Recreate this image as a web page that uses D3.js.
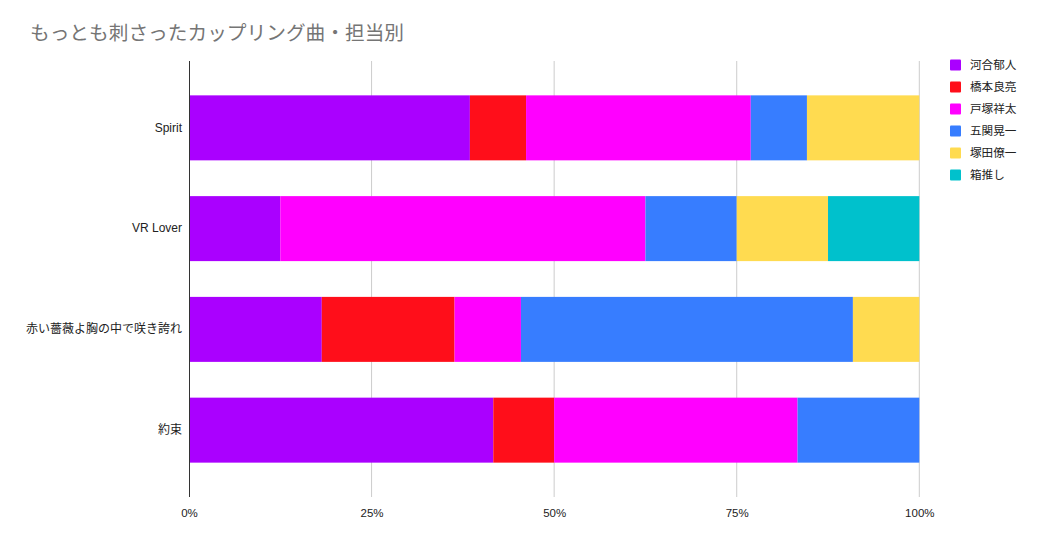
<!DOCTYPE html>
<html><head><meta charset="utf-8">
<script src="https://cdn.jsdelivr.net/npm/d3@7/dist/d3.min.js"></script>
<style>
body{margin:0;background:#fff;}
text{font-family:"Liberation Sans",Arial,"Noto Sans CJK JP",sans-serif;}
</style></head><body>
<svg id="c" width="1038" height="536"></svg>
<script>
const title = "もっとも刺さったカップリング曲・担当別";
const songs = ["Spirit","VR Lover","赤い薔薇よ胸の中で咲き誇れ","約束"];
const members = ["河合郁人","橋本良亮","戸塚祥太","五関晃一","塚田僚一","箱推し"];
const colors = ["#aa00ff","#ff0e1a","#ff00ff","#377dff","#ffdb50","#00c1cc"];
// votes per song, in members order
const vKawai   = [5,1,2,5];
const vHashi   = [1,0,2,1];
const vTotsuka = [4,4,1,4];
const vGoseki  = [1,1,5,2];
const vTsukada = [2,1,1,0];
const vHako    = [0,1,0,0];
const xTicks = [0,0.25,0.5,0.75,1];

const series = [vKawai,vHashi,vTotsuka,vGoseki,vTsukada,vHako];
const rows = songs.map((s,i)=>{
  const r={song:s}; let tot=0;
  members.forEach((m,j)=>{tot+=series[j][i];});
  members.forEach((m,j)=>{r[m]=series[j][i]/tot;});
  return r;
});
const stack = d3.stack().keys(members)(rows);

const svg = d3.select("#c");
const x = d3.scaleLinear().domain([0,1]).range([189,919.3]);
const y = d3.scaleBand().domain(songs).range([61,497]).paddingInner(0.355).paddingOuter(0.341);

svg.append("text").attr("x",30).attr("y",40).attr("fill","#757575")
  .style("font-size","19.7px").text(title);

// grid
svg.append("g").selectAll("line").data(xTicks.slice(1)).join("line")
  .attr("x1",d=>x(d)).attr("x2",d=>x(d)).attr("y1",61).attr("y2",497)
  .attr("stroke","#cccccc").attr("stroke-width",1);

// bars
svg.append("g").selectAll("g").data(stack).join("g")
  .attr("fill",(d,i)=>colors[i])
  .selectAll("rect").data(d=>d).join("rect")
  .attr("x",d=>x(d[0])).attr("width",d=>x(d[1])-x(d[0]))
  .attr("y",d=>y(d.data.song)).attr("height",y.bandwidth());

// x axis labels
const xa = svg.append("g").attr("transform","translate(0,497)")
  .call(d3.axisBottom(x).tickValues(xTicks).tickFormat(d3.format(".0%")).tickSize(0).tickPadding(12));
xa.select(".domain").remove();
xa.selectAll("text").attr("fill","#222").style("font-size","11.5px").style("font-family",null);

// y axis
const ya = svg.append("g").attr("transform","translate(189,0)")
  .call(d3.axisLeft(y).tickSize(0).tickPadding(7));
ya.select(".domain").remove();
ya.selectAll("text").attr("fill","#222").style("font-size","12px").style("font-family",null);
svg.append("line").attr("x1",189.5).attr("x2",189.5).attr("y1",61).attr("y2",497)
  .attr("stroke","#333").attr("stroke-width",1);

// legend
const lg = svg.append("g").selectAll("g").data(members).join("g")
  .attr("transform",(d,i)=>`translate(950,${65+i*22})`);
lg.append("rect").attr("x",0).attr("y",-5.5).attr("width",11).attr("height",11)
  .attr("rx",1).attr("fill",(d,i)=>colors[i]);
lg.append("text").attr("x",20).attr("y",0).attr("dy","0.35em")
  .attr("fill","#222").style("font-size","11.6px").text(d=>d);
</script>
</body></html>
